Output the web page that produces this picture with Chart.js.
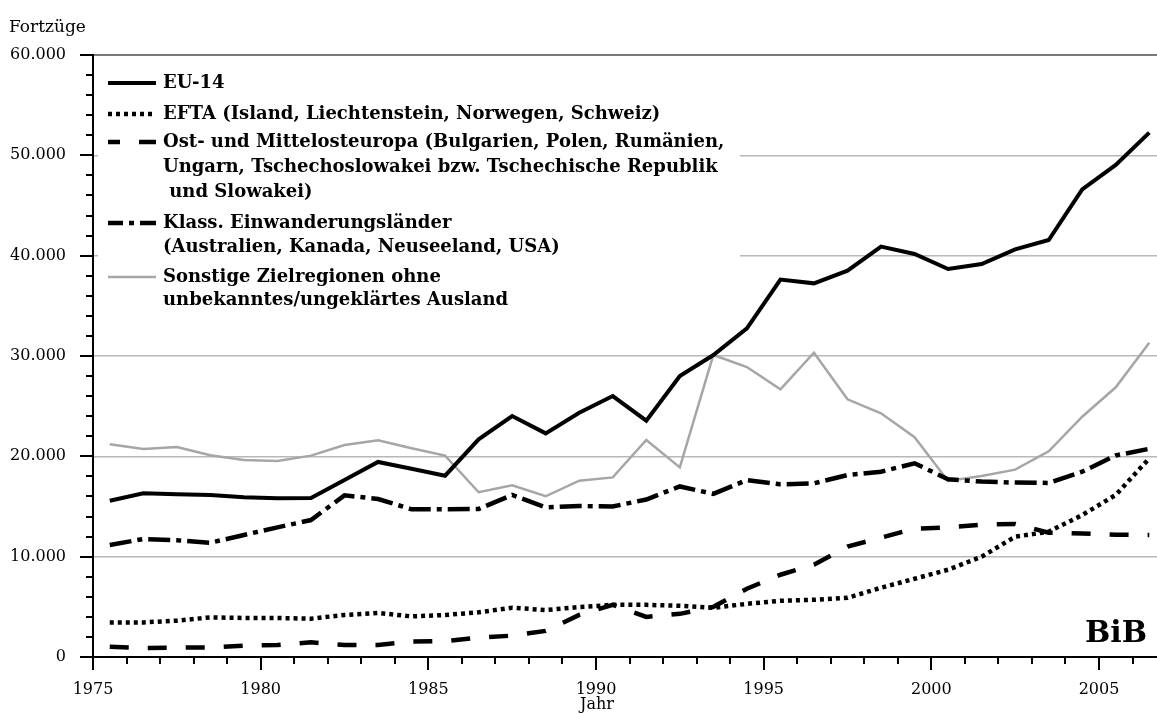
<!DOCTYPE html>
<html><head><meta charset="utf-8">
<script src="https://cdn.jsdelivr.net/npm/chart.js@4.4.1/dist/chart.umd.min.js"></script>
<style>html,body{margin:0;padding:0;background:#fff;}#wrap{width:1157px;height:713px;position:relative;}</style>
</head><body><div id="wrap"><canvas id="c" width="1157" height="713"></canvas></div>
<script>
const years = [1975,1976,1977,1978,1979,1980,1981,1982,1983,1984,1985,1986,1987,1988,1989,1990,1991,1992,1993,1994,1995,1996,1997,1998,1999,2000,2001,2002,2003,2004,2005,2006];
const eu14 = [15580,16310,16210,16150,15920,15820,15850,17640,19440,18770,18070,21700,24020,22290,24350,26010,23550,28010,30100,32760,37620,37240,38510,40900,40170,38670,39170,40630,41560,46600,49040,52260];
const efta = [3450,3450,3620,3950,3890,3890,3820,4190,4390,4050,4190,4450,4910,4680,4980,5200,5200,5100,4900,5300,5600,5700,5900,6900,7800,8700,10000,11990,12490,14150,16150,19800];
const ost = [1030,900,930,960,1130,1200,1460,1200,1200,1530,1590,1930,2130,2600,4190,5200,4000,4300,5000,6800,8200,9200,11000,11900,12800,12900,13200,13260,12390,12320,12190,12160];
const klass = [11160,11760,11630,11390,12160,12920,13650,16110,15750,14720,14720,14750,16150,14920,15050,15000,15700,17000,16260,17640,17210,17310,18140,18470,19310,17710,17480,17380,17350,18470,20090,20750];
const sonstige = [21200,20730,20930,20100,19640,19540,20070,21130,21600,20800,20070,16420,17110,16020,17570,17900,21630,18900,30100,28900,26680,30330,25680,24290,21900,17540,18040,18670,20500,23950,26880,31330];
const xTickLabels = [1975,1980,1985,1990,1995,2000,2005];
const yTickValues = [0,10000,20000,30000,40000,50000,60000];
const legendEntries = [
  {lines:["EU-14"]},
  {lines:["EFTA (Island, Liechtenstein, Norwegen, Schweiz)"]},
  {lines:["Ost- und Mittelosteuropa (Bulgarien, Polen, Rumänien,","Ungarn, Tschechoslowakei bzw. Tschechische Republik"," und Slowakei)"]},
  {lines:["Klass. Einwanderungsländer","(Australien, Kanada, Neuseeland, USA)"]},
  {lines:["Sonstige Zielregionen ohne","unbekanntes/ungeklärtes Ausland"]}
];

const styles = [
  {color:'#000', width:4, dash:[], off:0},
  {color:'#000', width:4.5, dash:[4,4], off:0},
  {color:'#000', width:4.5, dash:[19,19], off:7},
  {color:'#000', width:4.5, dash:[22,6,5,6], off:7},
  {color:'#a6a6a6', width:2.5, dash:[], off:0}
];
const series = [eu14, efta, ost, klass, sonstige];

function fmt(v){ return String(v).replace(/\B(?=(\d{3})+(?!\d))/g,'.'); }

const SERIF = "'DejaVu Serif', serif";

const decoPlugin = {
  id:'deco',
  beforeDatasetsDraw(chart){
    const ctx = chart.ctx;
    ctx.save();
    ctx.fillStyle = '#fff';
    ctx.fillRect(98, 58, 642, 252);
    const rows = [[83],[114],[142,167,192],[223,247],[277,300]];
    legendEntries.forEach((e,i)=>{
      const st = styles[i];
      const y0 = rows[i][0];
      ctx.beginPath();
      ctx.strokeStyle = st.color; ctx.lineWidth = st.width; ctx.setLineDash(st.dash); ctx.lineDashOffset = st.off; ctx.lineCap='butt';
      ctx.moveTo(108,y0); ctx.lineTo(156,y0); ctx.stroke();
      ctx.setLineDash([]); ctx.lineDashOffset = 0;
      ctx.fillStyle='#000';
      ctx.font = "bold 18px "+SERIF;
      ctx.textBaseline='middle'; ctx.textAlign='left';
      e.lines.forEach((t,j)=>ctx.fillText(t,163,rows[i][j]));
    });
    ctx.restore();
  },
  afterDraw(chart){
    const ctx = chart.ctx;
    const xs = chart.scales.x, ys = chart.scales.y;
    const a = chart.chartArea;
    ctx.save();
    ctx.strokeStyle='#000'; ctx.lineWidth=2;
    for(let v=0; v<=60000; v+=2000){
      const y = Math.round(ys.getPixelForValue(v));
      const len = v%10000===0 ? 13 : 7;
      ctx.beginPath(); ctx.moveTo(a.left-len,y); ctx.lineTo(a.left,y); ctx.stroke();
    }
    for(let yr=1975; yr<=2006; yr++){
      const x = Math.round(xs.getPixelForValue(yr));
      const len = yr%5===0 ? 13 : 7;
      ctx.beginPath(); ctx.moveTo(x,a.bottom); ctx.lineTo(x,a.bottom+len); ctx.stroke();
    }
    ctx.fillStyle='#000';
    ctx.font = "17px "+SERIF; ctx.textAlign='left'; ctx.textBaseline='alphabetic';
    ctx.fillText('Fortzüge', 9, 32);
    ctx.font = "16px "+SERIF;
    ctx.textAlign='center';
    ctx.fillText('Jahr', 597, 709);
    ctx.font = "bold 30px "+SERIF; ctx.textAlign='right';
    ctx.fillText('BiB', 1147, 642);
    ctx.restore();
  }
};

new Chart(document.getElementById('c'), {
  type:'line',
  data:{
    datasets: series.map((s,i)=>({
      data: s.map((v,k)=>({x: years[k]+0.5, y: v})),
      borderColor: styles[i].color,
      borderWidth: styles[i].width,
      borderDash: styles[i].dash,
      borderCapStyle: 'butt',
      borderJoinStyle: 'miter',
      pointRadius: 0,
      tension: 0,
      fill:false
    }))
  },
  options:{
    responsive:false, animation:false, devicePixelRatio:1,
    layout:{padding:{top:55,right:0,left:0,bottom:0}},
    plugins:{legend:{display:false}, tooltip:{enabled:false}},
    scales:{
      x:{
        type:'linear', min:1975, max:2006.73,
        afterBuildTicks(s){ s.ticks = xTickLabels.map(v=>({value:v})); },
        afterFit(s){ s.height = 56; },
        ticks:{autoSkip:false, maxRotation:0, padding:23, color:'#000', font:{family:'DejaVu Serif', size:16}, callback:v=>String(v)},
        grid:{display:false, drawTicks:false},
        border:{display:true, color:'#000', width:2}
      },
      y:{
        min:0, max:60000,
        afterBuildTicks(s){ s.ticks = yTickValues.map(v=>({value:v})); },
        afterFit(s){ s.width = 93; },
        ticks:{padding:27, color:'#000', font:{family:'DejaVu Serif', size:16}, callback:v=>fmt(v)},
        grid:{drawTicks:false, color:c=>c.tick && c.tick.value===60000 ? '#7a7a7a' : '#b8b8b8', lineWidth:c=>c.tick && c.tick.value===60000 ? 2 : 1.5},
        border:{display:true, color:'#000', width:2}
      }
    }
  },
  plugins:[decoPlugin]
});
</script></body></html>
